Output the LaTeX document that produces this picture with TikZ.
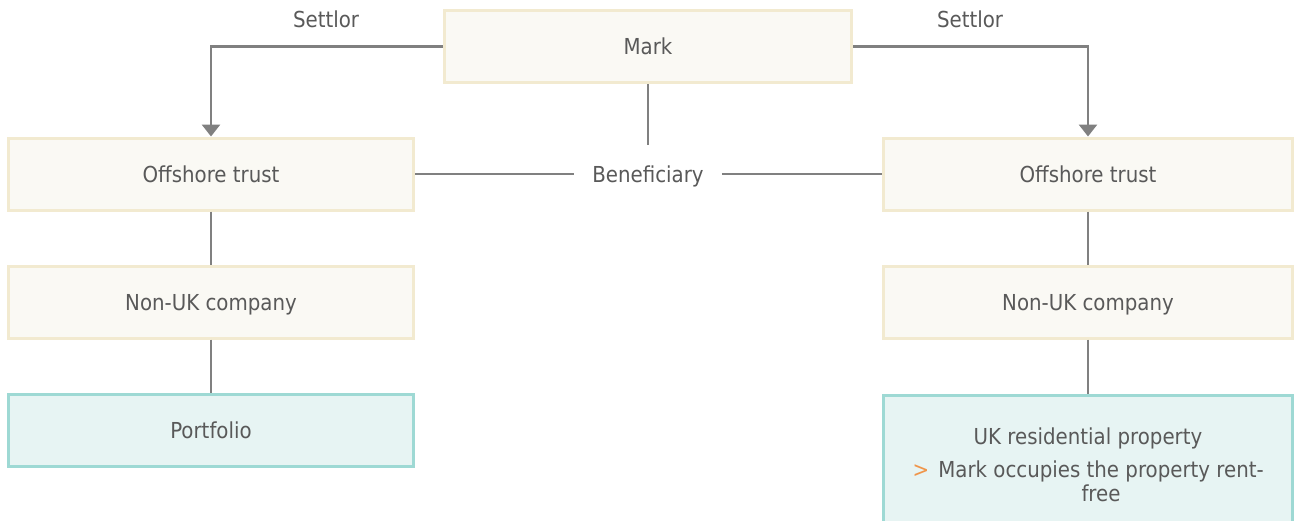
\documentclass[tikz,border=0pt]{standalone}
\usepackage{fontspec}
\setmainfont{DejaVu Sans Condensed}
\usetikzlibrary{arrows.meta}
\definecolor{txt}{HTML}{595959}
\definecolor{ln}{HTML}{808080}
\definecolor{beigefill}{HTML}{FAF9F4}
\definecolor{beigeedge}{HTML}{F2EAD0}
\definecolor{tealfill}{HTML}{E7F4F3}
\definecolor{tealedge}{HTML}{9ED9D4}
\definecolor{bul}{HTML}{F0954A}
\begin{document}
\begin{tikzpicture}[x=1pt,y=-1pt,
  font=\fontsize{22}{24}\selectfont, text=txt,
  capt/.style={text height=16pt, text depth=0pt},
  box/.style={capt, draw=beigeedge, fill=beigefill, line width=3pt, minimum width=405pt, minimum height=72pt, inner sep=0pt},
  rbox/.style={box, minimum width=409pt},
  leaf/.style={box, draw=tealedge, fill=tealfill},
  rleaf/.style={rbox, draw=tealedge, fill=tealfill},
  conn/.style={draw=ln, line width=2.8pt},
  arr/.style={conn, -{Triangle[width=18pt,length=12pt]}}]
\clip (0,0) rectangle (1294,520);
\fill[white] (0,0) rectangle (1294,520);
% nodes
\node[box, minimum width=407pt] (mark) at (648,46.5) {Mark};
\node[box] (otl) at (211,174) {Offshore trust};
\node[rbox] (otr) at (1088,174) {Offshore trust};
\node[box] (nul) at (211,302) {Non-UK company};
\node[rbox] (nur) at (1088,302) {Non-UK company};
\node[leaf] (port) at (211,430.5) {Portfolio};
\node[rleaf, minimum height=134pt] (uk) at (1088,462) {};
\node[anchor=base] (ukt) at (1088,444) {UK residential property};
\node[anchor=base, text=bul] (bullet) at (921,477) {>};
\node[anchor=base] (ukb) at (1101,477) {Mark occupies the property rent-};
\node[anchor=base] (ukc) at (1101,501) {free};
\node[capt, inner xsep=18pt, inner ysep=20.5pt] (ben) at (648,174) {Beneficiary};
\node[capt] (setl) at (326,19) {Settlor};
\node[capt] (setr) at (970,19) {Settlor};
% connectors
\draw[arr] (mark.west) -| (otl.north);
\draw[arr] (mark.east) -| (otr.north);
\draw[conn] (mark.south) -- (ben.north);
\draw[conn] (otl.east) -- (ben.west);
\draw[conn] (ben.east) -- (otr.west);
\draw[conn] (otl.south) -- (nul.north);
\draw[conn] (nul.south) -- (port.north);
\draw[conn] (otr.south) -- (nur.north);
\draw[conn] (nur.south) -- (uk.north);
\end{tikzpicture}
\end{document}
